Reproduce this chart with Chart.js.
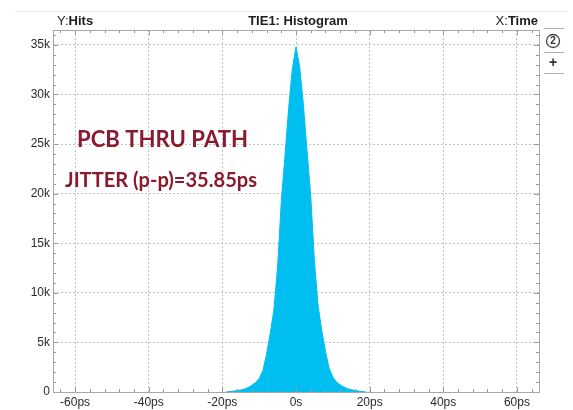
<!DOCTYPE html>
<html>
<head>
<meta charset="utf-8">
<script src="https://cdn.jsdelivr.net/npm/chart.js@4.4.1/dist/chart.umd.min.js"></script>
<style>
  html, body { margin: 0; padding: 0; background: #fff; }
  #chart { display: block; }
</style>
</head>
<body>
<canvas id="chart" width="573" height="410"></canvas>
<script>
// histogram (TIE1 histogram, hits per ps bin)
const timePs = [-19, -18, -17, -16, -15, -14, -13, -12, -11, -10, -9, -8, -7, -6, -5, -4, -3, -2, -1,
    0, 1, 2, 3, 4, 5, 6, 7, 8, 9, 10, 11, 12, 13, 14, 15, 16, 17, 18, 19];
const hits = [0, 40, 90, 140, 210, 310, 460, 680, 930, 1350, 2150, 3800, 5900, 8300, 12600, 19200, 23800, 28600, 32600,
    34800, 32800, 29000, 24300, 19800, 13200, 8700, 6200, 4100, 2400, 1500, 1000, 720, 500, 340, 230, 150, 100, 50, 0];

const xTickValues = [-60, -40, -20, 0, 20, 40, 60];
const yTickValues = [0, 5000, 10000, 15000, 20000, 25000, 30000, 35000];

const headerLeft = ['Y:', 'Hits'];
const headerTitle = 'TIE1: Histogram';
const headerRight = ['X:', 'Time'];
const noteTitle = 'PCB THRU PATH';
const noteJitter = 'JITTER (p-p)=35.85ps';

const fillColor = 'rgb(0,190,240)';
const noteColor = '#8b1a2f';

function fitFont(ctx, text, weight, size, family, width) {
    ctx.font = weight + ' ' + size + 'px ' + family;
    let w = ctx.measureText(text).width;
    let s = size * width / w;
    ctx.font = weight + ' ' + s.toFixed(1) + 'px ' + family;
}

const scopeFrame = {
    id: 'scopeFrame',
    afterDraw: function (chart) {
        let ctx = chart.ctx;
        let a = chart.chartArea;
        let x = chart.scales.x;
        let y = chart.scales.y;
        ctx.save();

        // minor / major tick marks on all four borders
        ctx.strokeStyle = '#9a9a9a';
        ctx.lineWidth = 1;
        ctx.beginPath();
        for (let v = -64; v <= 64; v += 4) {
            let px = Math.round(x.getPixelForValue(v)) + 0.5;
            let len = (v % 20 === 0) ? 5 : 3;
            ctx.moveTo(px, a.bottom); ctx.lineTo(px, a.bottom - len);
            ctx.moveTo(px, a.top); ctx.lineTo(px, a.top + len);
        }
        for (let v = 1000; v <= 36000; v += 1000) {
            let py = Math.round(y.getPixelForValue(v)) + 0.5;
            let len = (v % 5000 === 0) ? 5 : 3;
            ctx.moveTo(a.left, py); ctx.lineTo(a.left + len, py);
            ctx.moveTo(a.right, py); ctx.lineTo(a.right - len, py);
        }
        ctx.stroke();

        // plot frame
        ctx.strokeStyle = '#a8a8a8';
        ctx.strokeRect(Math.round(a.left) + 0.5, Math.round(a.top) + 0.5,
            Math.round(a.right - a.left), Math.round(a.bottom - a.top));

        // faint line above header
        ctx.strokeStyle = '#e8e8e8';
        ctx.beginPath();
        ctx.moveTo(15, 11.5); ctx.lineTo(568, 11.5);
        ctx.stroke();

        // header
        ctx.fillStyle = '#1e1e1e';
        ctx.textBaseline = 'middle';
        ctx.textAlign = 'left';
        ctx.font = '13px "Liberation Sans"';
        ctx.fillText(headerLeft[0], 57, 21);
        let w0 = ctx.measureText(headerLeft[0]).width;
        ctx.font = 'bold 13px "Liberation Sans"';
        ctx.fillText(headerLeft[1], 57 + w0, 21);

        ctx.textAlign = 'center';
        ctx.fillText(headerTitle, 298, 21);

        ctx.textAlign = 'right';
        ctx.fillText(headerRight[1], 538, 21);
        let w1 = ctx.measureText(headerRight[1]).width;
        ctx.font = '13px "Liberation Sans"';
        ctx.fillText(headerRight[0], 538 - w1, 21);

        // side buttons
        ctx.strokeStyle = '#b0b0b0';
        ctx.beginPath();
        ctx.moveTo(544, 28.5); ctx.lineTo(564, 28.5);
        ctx.moveTo(544, 52.5); ctx.lineTo(564, 52.5);
        ctx.moveTo(544, 73.5); ctx.lineTo(564, 73.5);
        ctx.stroke();
        ctx.strokeStyle = '#444';
        ctx.lineWidth = 1.3;
        ctx.beginPath();
        ctx.arc(553, 41, 6.5, 0, Math.PI * 2);
        ctx.stroke();
        ctx.fillStyle = '#333';
        ctx.textAlign = 'center';
        ctx.font = 'bold 10px "Liberation Sans"';
        ctx.fillText('2', 553, 41.5);
        ctx.font = 'bold 14px "Liberation Sans"';
        ctx.fillText('+', 553, 63);

        // annotation
        ctx.fillStyle = noteColor;
        ctx.textAlign = 'left';
        ctx.textBaseline = 'alphabetic';
        fitFont(ctx, noteTitle, 'bold', 21, 'Lato', 171);
        ctx.fillText(noteTitle, 77, 147);
        fitFont(ctx, noteJitter, 'bold', 18, 'Lato', 192);
        ctx.fillText(noteJitter, 65, 187);

        ctx.restore();
    }
};

new Chart(document.getElementById('chart'), {
    type: 'line',
    data: {
        datasets: [{
            data: timePs.map(function (t, i) { return {x: t, y: hits[i]}; }),
            fill: 'origin',
            backgroundColor: fillColor,
            borderColor: fillColor,
            borderWidth: 1,
            pointRadius: 0,
            tension: 0
        }]
    },
    options: {
        responsive: false,
        animation: false,
        devicePixelRatio: 1,
        layout: {padding: {top: 30, right: 34, left: 0, bottom: 0}},
        plugins: {legend: {display: false}, tooltip: {enabled: false}, title: {display: false}},
        scales: {
            x: {
                type: 'linear',
                min: -66,
                max: 66,
                afterBuildTicks: function (s) { s.ticks = xTickValues.map(function (v) { return {value: v}; }); },
                afterFit: function (s) { s.height = 18; },
                ticks: {
                    callback: function (v) { return v === 0 ? '0s' : v + 'ps'; },
                    color: '#2a2a2a',
                    font: {family: '"Liberation Sans"', size: 12},
                    padding: 3,
                    maxRotation: 0,
                    autoSkip: false
                },
                grid: {color: '#c2c2c2', lineWidth: 1, drawTicks: false},
                border: {display: false, dash: [2, 2]}
            },
            y: {
                min: 0,
                max: 36500,
                afterBuildTicks: function (s) { s.ticks = yTickValues.map(function (v) { return {value: v}; }); },
                afterFit: function (s) { s.width = 53; },
                ticks: {
                    callback: function (v) { return v === 0 ? '0' : (v / 1000) + 'k'; },
                    color: '#2a2a2a',
                    font: {family: '"Liberation Sans"', size: 12},
                    padding: 3
                },
                grid: {color: '#c2c2c2', lineWidth: 1, drawTicks: false},
                border: {display: false, dash: [2, 2]}
            }
        }
    },
    plugins: [scopeFrame]
});
</script>
</body>
</html>
